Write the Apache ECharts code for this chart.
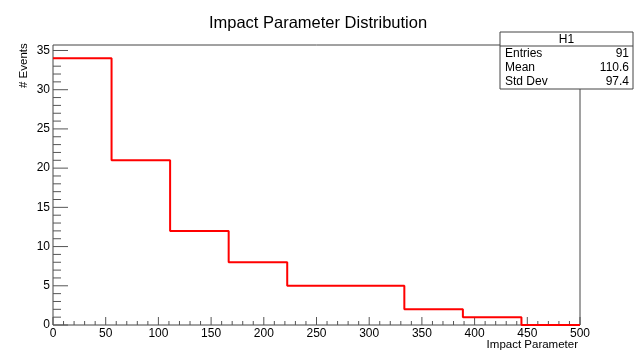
<!DOCTYPE html>
<html>
<head>
<meta charset="utf-8">
<script src="https://cdn.jsdelivr.net/npm/echarts@6/dist/echarts.min.js"></script>
<style>
  html, body { margin: 0; padding: 0; background: #fff; }
  #chart { width: 636px; height: 356px; }
</style>
</head>
<body>
<div id="chart"></div>
<script>
// histogram contents (9 bins from 0 to 500)
const counts = [34, 21, 12, 8, 5, 5, 2, 1, 0];
const xMin = 0;
const xMax = 500;
const yMax = 35.7;
const xMajorTicks = [0, 50, 100, 150, 200, 250, 300, 350, 400, 450, 500];
const yMajorTicks = [0, 5, 10, 15, 20, 25, 30, 35];
const statsLabels = ["Entries", "Mean", "Std Dev"];
const statsValues = ["91", "110.6", "97.4"];

const binWidth = (xMax - xMin) / counts.length;
const stepData = counts.map((c, i) => [xMin + i * binWidth, c]);
stepData.push([xMax, counts[counts.length - 1]]);

// minor ticks between the major ones
const xMinorTicks = [];
for (let v = xMin; v <= xMax; v += 10) if (v % 50 !== 0) xMinorTicks.push(v);
const yMinorTicks = [];
for (let v = 0; v <= 35; v += 1) if (v % 5 !== 0) yMinorTicks.push(v);

const chart = echarts.init(document.getElementById("chart"));
const font = "Liberation Sans, Arial, sans-serif";
const tickColor = "#555";

function yTickItem(len) {
  return function (params, api) {
    const p = api.coord([xMin, api.value(0)]);
    return {
      type: "line",
      shape: { x1: p[0], y1: p[1], x2: p[0] + len, y2: p[1] },
      style: { stroke: tickColor, lineWidth: 1 }
    };
  };
}
function xTickItem(len) {
  return function (params, api) {
    const p = api.coord([api.value(0), 0]);
    return {
      type: "line",
      shape: { x1: p[0], y1: p[1], x2: p[0], y2: p[1] - len },
      style: { stroke: tickColor, lineWidth: 1 }
    };
  };
}

const boxX = 500, boxY = 32, boxW = 133, boxH = 57, rowH = 14;

const option = {
  animation: false,
  backgroundColor: "#fff",
  title: {
    text: "Impact Parameter Distribution",
    left: "center",
    top: 10,
    textStyle: { fontFamily: font, fontSize: 16.5, fontWeight: "normal", color: "#000" }
  },
  grid: {
    left: 53, right: 56, top: 45, bottom: 31,
    containLabel: false, outerBoundsMode: "none",
    show: true, borderColor: "#444", borderWidth: 1, backgroundColor: "transparent"
  },
  xAxis: {
    type: "value",
    min: xMin, max: xMax, interval: 50,
    axisLine: { show: false },
    axisTick: { show: false },
    splitLine: { show: false },
    axisLabel: { fontFamily: font, fontSize: 12, color: "#000", margin: 3 }
  },
  yAxis: {
    type: "value",
    min: 0, max: yMax, interval: 5,
    axisLine: { show: false },
    axisTick: { show: false },
    splitLine: { show: false },
    axisLabel: {
      fontFamily: font, fontSize: 12, color: "#000", margin: 3,
      formatter: v => (v % 5 === 0 ? String(v) : "")
    }
  },
  graphic: [
    {
      type: "text",
      x: 24, y: 88,
      rotation: Math.PI / 2,
      style: { text: "# Events", font: "11.5px " + font, fill: "#000", align: "left", verticalAlign: "middle" }
    },
    {
      type: "text",
      x: 578, y: 345,
      style: { text: "Impact Parameter", font: "11.5px " + font, fill: "#000", align: "right", verticalAlign: "middle" }
    },
    {
      type: "group",
      x: boxX, y: boxY,
      children: [
        { type: "rect", shape: { x: 0, y: 0, width: boxW, height: boxH },
          style: { fill: "#fff", stroke: "#444", lineWidth: 1 } },
        { type: "line", shape: { x1: 0, y1: 14, x2: boxW, y2: 14 },
          style: { stroke: "#444", lineWidth: 1 } },
        { type: "text", x: boxW / 2, y: 8,
          style: { text: "H1", font: "12px " + font, fill: "#000", align: "center", verticalAlign: "middle" } }
      ].concat(statsLabels.map((s, i) => ({
        type: "text", x: 5, y: 22 + i * rowH,
        style: { text: s, font: "12px " + font, fill: "#000", verticalAlign: "middle" }
      }))).concat(statsValues.map((s, i) => ({
        type: "text", x: boxW - 4, y: 22 + i * rowH,
        style: { text: s, font: "12px " + font, fill: "#000", align: "right", verticalAlign: "middle" }
      })))
    }
  ],
  series: [
    {
      type: "custom", renderItem: yTickItem(15), silent: true, z: 1,
      data: yMajorTicks.map(v => [v])
    },
    {
      type: "custom", renderItem: yTickItem(8), silent: true, z: 1,
      data: yMinorTicks.map(v => [v])
    },
    {
      type: "custom", renderItem: xTickItem(8), silent: true, z: 1,
      data: xMajorTicks.map(v => [v])
    },
    {
      type: "custom", renderItem: xTickItem(4), silent: true, z: 1,
      data: xMinorTicks.map(v => [v])
    },
    {
      type: "line",
      step: "end",
      data: stepData,
      symbol: "none",
      z: 5,
      lineStyle: { color: "#ff0000", width: 2 }
    }
  ]
};

chart.setOption(option);
</script>
</body>
</html>
